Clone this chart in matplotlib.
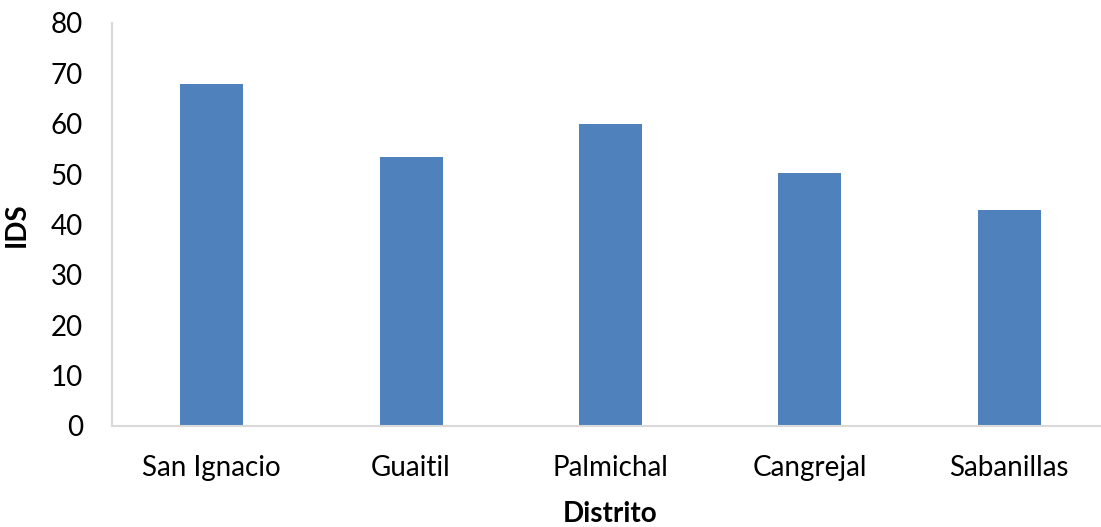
import matplotlib
matplotlib.use("Agg")
import matplotlib.pyplot as plt

# IDS por distrito
distritos = ["San Ignacio", "Guaitil", "Palmichal", "Cangrejal", "Sabanillas"]
ids = [67.9, 53.3, 59.9, 50.3, 42.8]
yticks = [0, 10, 20, 30, 40, 50, 60, 70, 80]

plt.rcParams["font.family"] = ["Lato", "DejaVu Sans"]

fig = plt.figure(figsize=(11.01, 5.27), dpi=100)
ax = fig.add_axes([0.1017, 0.1917, 0.9055, 0.7647])

ax.bar(range(len(distritos)), ids, width=0.316, color="#4F81BD", zorder=2)

ax.set_xlim(-0.5, len(distritos) - 0.5)
ax.set_ylim(0, 80)
ax.set_yticks(yticks)
ax.set_xticks(range(len(distritos)))
ax.set_xticklabels(distritos)
ax.tick_params(axis="both", length=0, labelsize=20, colors="black")
ax.tick_params(axis="y", pad=21)
ax.tick_params(axis="x", pad=21)

for side in ("top", "right"):
    ax.spines[side].set_visible(False)
for side in ("left", "bottom"):
    ax.spines[side].set_color("#D9D9D9")
    ax.spines[side].set_linewidth(1.5)

ax.set_ylabel("IDS", fontsize=20, fontweight="bold")
ax.yaxis.set_label_coords(-0.082, 0.5)
ax.set_xlabel("Distrito", fontsize=20, fontweight="bold")
ax.xaxis.set_label_coords(0.5, -0.187)

fig.savefig("out.png", dpi=100)
